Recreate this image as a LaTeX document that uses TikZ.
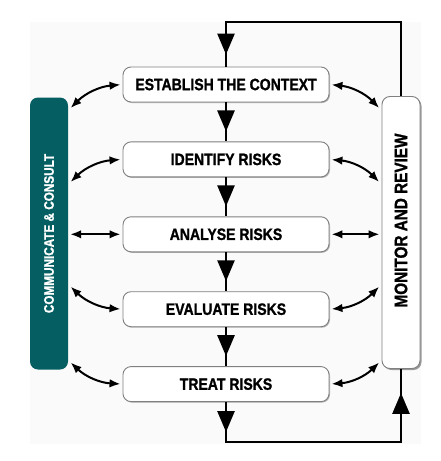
\documentclass[tikz,border=0pt]{standalone}
\usepackage{fontspec}
\setmainfont{Liberation Sans}[FakeStretch=0.85,BoldFeatures={FakeBold=1.2}]
\usepackage{tikz}
\usetikzlibrary{arrows.meta,positioning,calc,decorations.markings,shadows}
\definecolor{consult}{HTML}{045E62}
\definecolor{edge}{HTML}{808080}
\definecolor{paper}{HTML}{FAFAFA}
\tikzset{bigtri/.tip={Triangle[length=21pt,width=17pt]}}

\begin{document}
\begin{tikzpicture}[
  x=1pt,y=-1pt,
  stage/.style={draw=edge,fill=white,line width=0.9pt,rounded corners=8pt,
                minimum width=206pt,minimum height=35pt,inner sep=0pt,
                drop shadow={shadow xshift=1pt,shadow yshift=-1pt,fill=black!30,opacity=1},
                font=\fontsize{16.5}{18}\selectfont\bfseries},
  side/.style={rounded corners=8pt,minimum width=38pt,minimum height=272pt,inner sep=0pt},
  loopline/.style={line width=2.6pt},
  midtip/.style={postaction={decorate,decoration={markings,
                 mark=at position #1 with {\arrow{bigtri}}}}},
  dbl/.style={{Latex[length=11pt,width=8.5pt]}-{Latex[length=11pt,width=8.5pt]},
              line width=2pt,shorten <=2pt,shorten >=2pt},
  node distance=39pt]
\useasboundingbox (0,0) rectangle (440,461);
\fill[paper] (30,22) rectangle (421,444);

% the process, top to bottom
\node[stage] (est) at (226,84.5) {ESTABLISH THE CONTEXT};
\node[stage,below=of est] (ide) {IDENTIFY RISKS};
\node[stage,below=of ide] (ana) {ANALYSE RISKS};
\node[stage,below=of ana] (eva) {EVALUATE RISKS};
\node[stage,below=of eva] (trt) {TREAT RISKS};

% the two side columns
\node[side,fill=consult] (com) at (49,233.5) {};
\node[side,draw=edge,fill=white,line width=0.9pt,
      drop shadow={shadow xshift=1.5pt,shadow yshift=-1.5pt,fill=black!40,opacity=1}] (mon) at (401,232.5) {};
\node[rotate=90,text=white,font=\fontsize{13.8}{15}\selectfont\bfseries] (com-txt) at (com) {COMMUNICATE \& CONSULT};
\node[rotate=90,font=\fontsize{18}{20}\selectfont\bfseries] (mon-txt) at ($(mon)+(0,-12)$) {MONITOR AND REVIEW};

% the loop
\coordinate (tl) at (est |- 0,22);
\coordinate (tr) at (mon |- 0,22);
\coordinate (bl) at (trt |- 0,442);
\coordinate (br) at (mon |- 0,442);
\draw[loopline,midtip=-12pt] (mon.north) -- (tr) -- (tl) -- (est.north);
\foreach \a/\b in {est/ide,ide/ana,ana/eva,eva/trt}
  \draw[loopline,midtip=-10pt] (\a) -- (\b);
\draw[loopline,midtip=30pt,midtip=-24pt] (trt) -- (bl) -- (br) -- (mon.south);

% two-way links to the side columns
\foreach \n/\dy in {est/25,ide/24,eva/-24,trt/-23}{
  \coordinate (l-\n) at ($(com.east |- \n)+(1,\dy)$);
  \coordinate (r-\n) at ($(mon.west |- \n)+(-1,\dy)$);
}
\draw[dbl] (est.west) to[bend right=20] (l-est);
\draw[dbl] (ide.west) to[bend right=20] (l-ide);
\draw[dbl] (ana.west) -- (com.east |- ana);
\draw[dbl] (eva.west) to[bend left=20] (l-eva);
\draw[dbl] (trt.west) to[bend left=20] (l-trt);
\draw[dbl] (est.east) to[bend left=20] (r-est);
\draw[dbl] (ide.east) to[bend left=20] (r-ide);
\draw[dbl] (ana.east) -- (mon.west |- ana);
\draw[dbl] (eva.east) to[bend right=20] (r-eva);
\draw[dbl] (trt.east) to[bend right=20] (r-trt);
\end{tikzpicture}
\end{document}
